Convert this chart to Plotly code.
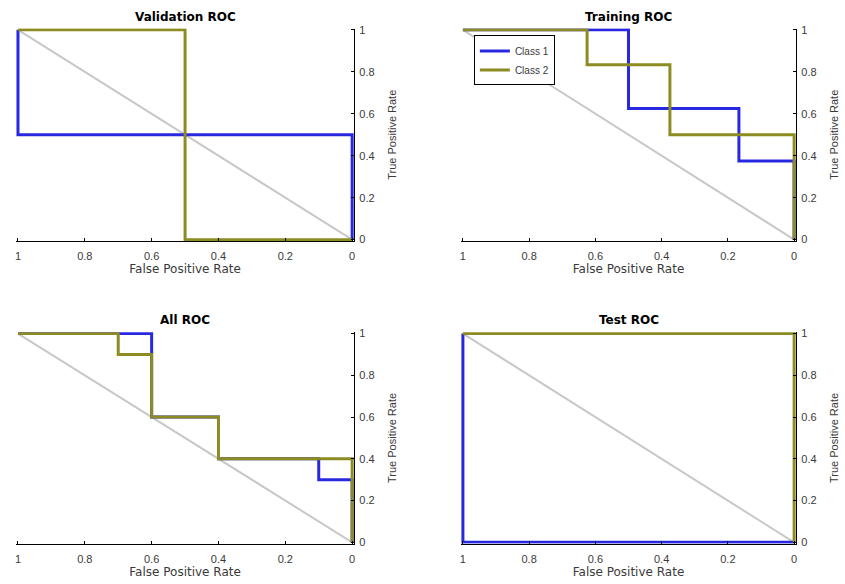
import plotly.graph_objects as go

# ---- data (FPR, TPR vertices of each ROC step curve) ----
train_c1_fpr = [0, 0, 0.1667, 0.1667, 0.5, 0.5, 1]
train_c1_tpr = [0, 0.375, 0.375, 0.625, 0.625, 1, 1]
train_c2_fpr = [0, 0, 0.375, 0.375, 0.625, 0.625, 1]
train_c2_tpr = [0, 0.5, 0.5, 0.8333, 0.8333, 1, 1]

val_c1_fpr = [0, 0, 1, 1]
val_c1_tpr = [0, 0.5, 0.5, 1]
val_c2_fpr = [0, 0.5, 0.5, 1]
val_c2_tpr = [0, 0, 1, 1]

test_c1_fpr = [0, 1, 1]
test_c1_tpr = [0, 0, 1]
test_c2_fpr = [0, 0, 1]
test_c2_tpr = [0, 1, 1]

all_c1_fpr = [0, 0, 0.1, 0.1, 0.4, 0.4, 0.6, 0.6, 1]
all_c1_tpr = [0, 0.3, 0.3, 0.4, 0.4, 0.6, 0.6, 1, 1]
all_c2_fpr = [0, 0, 0.4, 0.4, 0.6, 0.6, 0.7, 0.7, 1]
all_c2_tpr = [0, 0.4, 0.4, 0.6, 0.6, 0.9, 0.9, 1, 1]

diag = [0, 1]
tick_vals = [0, 0.2, 0.4, 0.6, 0.8, 1]
tick_text = ["0", "0.2", "0.4", "0.6", "0.8", "1"]
class_names = ["Class 1", "Class 2"]

panels = [
    ("Validation ROC", (val_c1_fpr, val_c1_tpr), (val_c2_fpr, val_c2_tpr)),
    ("Training ROC", (train_c1_fpr, train_c1_tpr), (train_c2_fpr, train_c2_tpr)),
    ("All ROC", (all_c1_fpr, all_c1_tpr), (all_c2_fpr, all_c2_tpr)),
    ("Test ROC", (test_c1_fpr, test_c1_tpr), (test_c2_fpr, test_c2_tpr)),
]

W, H = 845, 584
BLUE = "rgb(40,40,225)"
OLIVE = "rgb(140,140,35)"
GRAY = "rgb(200,200,200)"
FONT = "Liberation Sans, Arial, sans-serif"
WIDE = "DejaVu Sans, sans-serif"
TXT = "#3a3a3a"

# pixel boxes: (x at FPR=1, x at FPR=0, y at TPR=1, y at TPR=0)
boxes = [
    (15, 354, 24, 240),
    (461, 797, 24, 240),
    (15, 354, 333, 548),
    (461, 797, 333, 548),
]

fig = go.Figure()
layout = dict(
    width=W, height=H,
    margin=dict(l=0, r=0, t=0, b=0),
    paper_bgcolor="white", plot_bgcolor="white",
    font=dict(family=FONT, size=10, color="black"),
    showlegend=True,
    legend=dict(
        x=474 / W, y=1 - 31 / H, xanchor="left", yanchor="top",
        bgcolor="white", bordercolor="black", borderwidth=1,
        font=dict(size=10, family=FONT, color=TXT), tracegroupgap=0,
        itemwidth=30, entrywidth=84,
    ),
)
annotations = []

for i, (title, c1, c2) in enumerate(panels):
    k = "" if i == 0 else str(i + 1)
    xa, ya = "x" + k, "y" + k
    x1, x0, yt, yb = boxes[i]
    fig.add_trace(go.Scatter(x=diag, y=diag, mode="lines",
                             line=dict(color=GRAY, width=2),
                             showlegend=False, hoverinfo="skip",
                             xaxis=xa, yaxis=ya))
    fig.add_trace(go.Scatter(x=c1[0], y=c1[1], mode="lines", name=class_names[0],
                             line=dict(color=BLUE, width=3),
                             showlegend=(i == 1), xaxis=xa, yaxis=ya))
    fig.add_trace(go.Scatter(x=c2[0], y=c2[1], mode="lines", name=class_names[1],
                             line=dict(color=OLIVE, width=3),
                             showlegend=(i == 1), xaxis=xa, yaxis=ya))
    layout["xaxis" + k] = dict(
        domain=[x1 / W, x0 / W], range=[1.006, -0.006],
        anchor=ya, showgrid=False, zeroline=False,
        showline=True, linecolor="black", linewidth=1,
        ticks="inside", ticklen=3, tickcolor="black",
        tickvals=tick_vals, ticktext=tick_text,
        ticklabelstandoff=5,
        tickfont=dict(size=11, color=TXT, family=FONT),
        title=dict(text="False Positive Rate", standoff=3,
                   font=dict(size=12, color=TXT, family=WIDE)),
        fixedrange=True,
    )
    layout["yaxis" + k] = dict(
        domain=[1 - yb / H, 1 - yt / H], range=[-0.006, 1.006],
        anchor=xa, side="right", showgrid=False, zeroline=False,
        showline=True, linecolor="black", linewidth=1,
        ticks="inside", ticklen=3, tickcolor="black",
        tickvals=tick_vals, ticktext=tick_text,
        ticklabelstandoff=2,
        tickfont=dict(size=11, color=TXT, family=FONT),
        title=dict(text="True Positive Rate", standoff=14,
                   font=dict(size=11, color=TXT, family=FONT)),
        fixedrange=True,
    )
    annotations.append(dict(
        text="<b>" + title + "</b>", x=(x1 + x0) / 2 / W, y=1 - (yt - 3) / H,
        xref="paper", yref="paper", xanchor="center", yanchor="bottom",
        showarrow=False, font=dict(size=12, family=WIDE, color="black"),
    ))

layout["annotations"] = annotations
fig.update_layout(**layout)
fig.write_html("out.html")
